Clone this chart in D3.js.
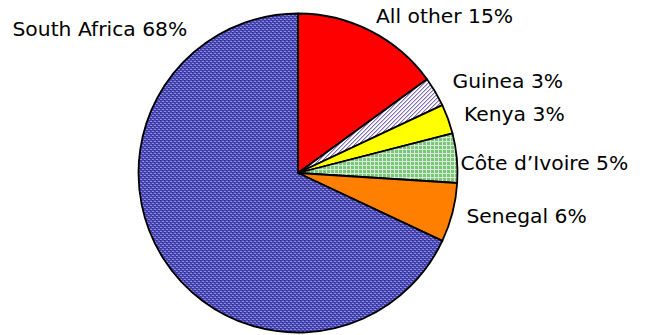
<!DOCTYPE html>
<html><head><meta charset="utf-8">
<script src="https://cdn.jsdelivr.net/npm/d3@7"></script>
<style>body{margin:0;background:#fff}svg{display:block}</style>
</head><body>
<svg id="c" width="646" height="335"></svg>
<script>
const categories = ["All other", "Guinea", "Kenya", "Côte d’Ivoire", "Senegal", "South Africa"];
const values = [15, 3, 3, 5, 6, 68];
const fills = ["#ff0000", "url(#pGuinea)", "#ffff00", "url(#pGreen)", "#ff8000", "url(#pBlue)"];
// label anchor layout (left x, baseline y)
const labelPos = [[376, 22.5], [452.5, 88], [464, 121], [460.5, 170], [466.5, 223], [12.5, 36]];

const svg = d3.select("#c");
const defs = svg.append("defs");
// blue weave pattern
const pb = defs.append("pattern").attr("id", "pBlue").attr("patternUnits", "userSpaceOnUse").attr("width", 4).attr("height", 4);
pb.append("rect").attr("width", 4).attr("height", 4).attr("fill", "#4848b0");
[[0,0],[2,2],[1,0],[3,2]].forEach(([x,y]) => pb.append("rect").attr("x", x).attr("y", y).attr("width", 1).attr("height", 1).attr("fill", "#8a8ae0"));
[[0,1],[2,3]].forEach(([x,y]) => pb.append("rect").attr("x", x).attr("y", y).attr("width", 1).attr("height", 1).attr("fill", "#2e2e98"));
// green grid pattern
const pg = defs.append("pattern").attr("id", "pGreen").attr("patternUnits", "userSpaceOnUse").attr("width", 4).attr("height", 4);
pg.append("rect").attr("width", 4).attr("height", 4).attr("fill", "#7cc47c");
pg.append("rect").attr("x", 0).attr("y", 0).attr("width", 4).attr("height", 1).attr("fill", "#d4eed4");
pg.append("rect").attr("x", 0).attr("y", 0).attr("width", 1).attr("height", 4).attr("fill", "#d4eed4");
// guinea diagonal hatch
const ph = defs.append("pattern").attr("id", "pGuinea").attr("patternUnits", "userSpaceOnUse").attr("width", 4).attr("height", 4);
ph.append("rect").attr("width", 4).attr("height", 4).attr("fill", "#ffffff");
[[3,0],[2,1],[1,2],[0,3]].forEach(([x,y]) => ph.append("rect").attr("x", x).attr("y", y).attr("width", 1).attr("height", 1).attr("fill", "#8070c0"));
[[0,0],[3,1],[2,2],[1,3]].forEach(([x,y]) => ph.append("rect").attr("x", x).attr("y", y).attr("width", 1).attr("height", 1).attr("fill", "#c8c0e8"));

const cx = 298, cy = 173, r = 159.5;
const pie = d3.pie().sort(null).value(d => d)(values);
const arc = d3.arc().innerRadius(0).outerRadius(r);
const g = svg.append("g").attr("transform", `translate(${cx},${cy})`);
g.selectAll("path").data(pie).join("path")
  .attr("d", arc)
  .attr("fill", (d, i) => fills[i])
  .attr("stroke", "#000").attr("stroke-width", 1.8).attr("stroke-linejoin", "round");

svg.selectAll("text.lbl").data(categories).join("text")
  .attr("class", "lbl")
  .attr("x", (d, i) => labelPos[i][0]).attr("y", (d, i) => labelPos[i][1])
  .attr("font-family", "Verdana, 'DejaVu Sans', sans-serif").attr("font-size", 20.3)
  .attr("fill", "#000")
  .text((d, i) => `${d} ${values[i]}%`);
</script>
</body></html>
